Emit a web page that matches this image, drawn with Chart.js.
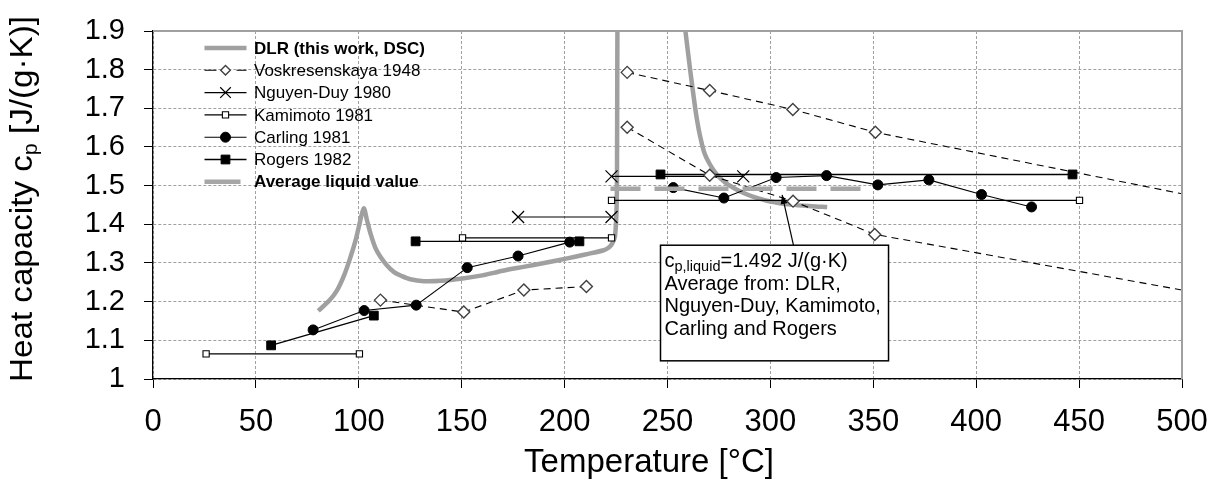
<!DOCTYPE html>
<html><head><meta charset="utf-8">
<script src="https://cdn.jsdelivr.net/npm/chart.js@4.4.1/dist/chart.umd.min.js"></script>
<style>html,body{margin:0;padding:0;background:#fff;overflow:hidden}</style>
</head><body>
<canvas id="c" width="1217" height="481"></canvas>
<script>
// ---------- data ----------
const xTickValues = [0, 50, 100, 150, 200, 250, 300, 350, 400, 450, 500];
const xTickLabels = ['0', '50', '100', '150', '200', '250', '300', '350', '400', '450', '500'];
const yTickValues = [1, 1.1, 1.2, 1.3, 1.4, 1.5, 1.6, 1.7, 1.8, 1.9];
const yTickLabels = ['1', '1.1', '1.2', '1.3', '1.4', '1.5', '1.6', '1.7', '1.8', '1.9'];

const dlrT  = [80.3, 86, 89.5, 93, 96, 98.5, 100, 102.4, 104, 105.7, 108, 110.5, 113.5, 117, 121, 125, 131.6, 140, 150.4, 160, 170, 180, 190, 201.3, 210, 219, 221.5, 223.1, 224.5, 225.3, 225.5, 225.6, 225.7, null, 257.5, 258.7, 261, 264.4, 267.6, 270.5, 274.1, 278, 282.2, 287, 291.8, 300, 310, 320, 327.6];
const dlrCp = [1.176, 1.205, 1.23, 1.27, 1.316, 1.36, 1.393, 1.441, 1.41, 1.376, 1.34, 1.316, 1.295, 1.277, 1.266, 1.258, 1.253, 1.254, 1.26, 1.268, 1.28, 1.29, 1.30, 1.312, 1.322, 1.333, 1.34, 1.35, 1.37, 1.45, 1.6, 1.8, 1.95, null, 1.95, 1.9, 1.8, 1.668, 1.59, 1.556, 1.528, 1.508, 1.494, 1.481, 1.471, 1.459, 1.451, 1.447, 1.445];

const voskT  = [110.5, 151, 180.2, 210.6, null, 230.4, 270.5, 310.9, 351, 500, null, 230.4, 270.5, 311, 350.7, 500];
const voskCp = [1.204, 1.173, 1.230, 1.239, null, 1.793, 1.746, 1.697, 1.638, 1.479, null, 1.651, 1.527, 1.46, 1.374, 1.23];

const nguyenT  = [177.4, 222.8, null, 222.8, 286.8];
const nguyenCp = [1.419, 1.419, null, 1.524, 1.524];

const kamimotoT  = [25.8, 100.3, null, 150.4, 222.8, null, 222.8, 450.2];
const kamimotoCp = [1.065, 1.065, null, 1.365, 1.365, null, 1.462, 1.462];

const carlingT  = [77.8, 102.6, 127.9, 152.7, 177.4, 202.5, null, 252.8, 277.4, 302.8, 327.3, 352.2, 377, 402.6, 426.9];
const carlingCp = [1.127, 1.177, 1.191, 1.288, 1.318, 1.354, null, 1.495, 1.468, 1.521, 1.526, 1.502, 1.515, 1.477, 1.445];

const rogersT  = [57.4, 107.3, null, 127.6, 207.2, null, 246.6, 446.8];
const rogersCp = [1.087, 1.164, null, 1.356, 1.356, null, 1.529, 1.529];

const avgT  = [222.3, 350.5];
const avgCp = [1.492, 1.492];

const seriesNames = ['DLR (this work, DSC)', 'Voskresenskaya 1948', 'Nguyen-Duy 1980', 'Kamimoto 1981', 'Carling 1981', 'Rogers 1982', 'Average liquid value'];

const xTitle = 'Temperature [°C]';
const yTitleParts = ['Heat capacity c', 'p', ' [J/(g·K)]'];
const noteParts = ['c', 'p,liquid', '=1.492 J/(g·K)'];
const noteLines = ['Average from: DLR,', 'Nguyen-Duy, Kamimoto,', 'Carling and Rogers'];
// annotation anchor in data units
const noteBox = {t0: 246.6, t1: 357.4, cpTop: 1.346, cpBottom: 1.047};
const noteArrow = {tFrom: 311.2, cpFrom: 1.346, tTo: 305.7, cpTo: 1.476};

// ---------- helpers ----------
const FONT = "'Liberation Sans', Arial, sans-serif";
const pts = (t, c) => t.map((x, i) => ({x: x, y: c[i]}));
const GRAY = '#a0a0a0';

function drawMarker(ctx, style, x, y, r) {
  ctx.beginPath();
  if (style === 'circle') { ctx.arc(x, y, r, 0, Math.PI * 2); ctx.fill(); ctx.stroke(); }
  else if (style === 'rect') { const s = r * Math.SQRT1_2; ctx.rect(x - s, y - s, 2 * s, 2 * s); ctx.fill(); ctx.stroke(); }
  else if (style === 'rectRot') { ctx.moveTo(x, y - r); ctx.lineTo(x + r, y); ctx.lineTo(x, y + r); ctx.lineTo(x - r, y); ctx.closePath(); ctx.fill(); ctx.stroke(); }
  else if (style === 'crossRot') { const s = r * Math.SQRT1_2; ctx.moveTo(x - s, y - s); ctx.lineTo(x + s, y + s); ctx.moveTo(x - s, y + s); ctx.lineTo(x + s, y - s); ctx.stroke(); }
}

const decor = {
  id: 'decor',
  afterDraw(chart) {
    const {ctx, chartArea: a, scales: {x, y}} = chart;
    ctx.save();
    // frame (top & right)
    ctx.strokeStyle = GRAY; ctx.lineWidth = 2; ctx.setLineDash([]);
    ctx.beginPath(); ctx.moveTo(a.left, a.top); ctx.lineTo(a.right, a.top); ctx.lineTo(a.right, a.bottom); ctx.stroke();

    ctx.fillStyle = '#000';
    // x title
    ctx.font = '33px ' + FONT; ctx.textAlign = 'center'; ctx.textBaseline = 'alphabetic';
    ctx.fillText(xTitle, a.left + 496, 472);

    // y title (rotated, with subscript)
    ctx.save();
    ctx.translate(32, 199); ctx.rotate(-Math.PI / 2);
    const fs = [31, 20, 31], dy = [0, 5, 0];
    let W = 0; const ws = [];
    yTitleParts.forEach((t, i) => { ctx.font = fs[i] + 'px ' + FONT; ws[i] = ctx.measureText(t).width; W += ws[i]; });
    const sc = 366 / W;
    ctx.scale(sc, 1);
    ctx.textAlign = 'left';
    let cx = -W / 2;
    yTitleParts.forEach((t, i) => { ctx.font = fs[i] + 'px ' + FONT; ctx.fillText(t, cx, dy[i]); cx += ws[i]; });
    ctx.restore();

    // legend
    const ds = chart.data.datasets;
    const sx0 = a.left + 51.5, sx1 = a.left + 93.5, tx = a.left + 101;
    for (let i = 0; i < ds.length; i++) {
      const d = ds.find(q => q.legendIndex === i);
      const yc = a.top + 17 + i * 22.3;
      ctx.save();
      ctx.strokeStyle = d.borderColor; ctx.lineWidth = d.borderWidth;
      ctx.setLineDash(d.legendDash || []);
      ctx.beginPath(); ctx.moveTo(sx0, yc); ctx.lineTo(d.legendShort ? sx0 + 36 : sx1, yc); ctx.stroke();
      ctx.setLineDash([]);
      if (d.pointStyle && d.legendRadius) {
        ctx.fillStyle = d.pointBackgroundColor; ctx.strokeStyle = d.pointBorderColor; ctx.lineWidth = d.pointBorderWidth;
        drawMarker(ctx, d.pointStyle, (sx0 + sx1) / 2, yc, d.legendRadius);
      }
      ctx.fillStyle = '#000';
      ctx.font = (d.legendBold ? 'bold ' : '') + '17px ' + FONT;
      ctx.textAlign = 'left'; ctx.textBaseline = 'middle';
      ctx.fillText(d.label, tx, yc + 1);
      ctx.restore();
    }

    // annotation arrow
    const ax0 = x.getPixelForValue(noteArrow.tFrom), ay0 = y.getPixelForValue(noteArrow.cpFrom);
    const ax1 = x.getPixelForValue(noteArrow.tTo), ay1 = y.getPixelForValue(noteArrow.cpTo);
    ctx.strokeStyle = '#000'; ctx.lineWidth = 1.2;
    ctx.beginPath(); ctx.moveTo(ax0, ay0); ctx.lineTo(ax1, ay1); ctx.stroke();
    const ang = Math.atan2(ay1 - ay0, ax1 - ax0);
    ctx.fillStyle = '#000';
    ctx.beginPath();
    ctx.moveTo(ax1, ay1);
    ctx.lineTo(ax1 - 9 * Math.cos(ang) + 3.5 * Math.sin(ang), ay1 - 9 * Math.sin(ang) - 3.5 * Math.cos(ang));
    ctx.lineTo(ax1 - 9 * Math.cos(ang) - 3.5 * Math.sin(ang), ay1 - 9 * Math.sin(ang) + 3.5 * Math.cos(ang));
    ctx.closePath(); ctx.fill();

    // annotation box
    const bl = x.getPixelForValue(noteBox.t0), br = x.getPixelForValue(noteBox.t1);
    const bt = y.getPixelForValue(noteBox.cpTop), bb = y.getPixelForValue(noteBox.cpBottom);
    ctx.fillStyle = '#fff'; ctx.fillRect(bl, bt, br - bl, bb - bt);
    ctx.strokeStyle = '#000'; ctx.lineWidth = 1.5; ctx.strokeRect(bl, bt, br - bl, bb - bt);
    ctx.fillStyle = '#000'; ctx.textAlign = 'left'; ctx.textBaseline = 'alphabetic';
    let nx = bl + 4;
    const nf = [20, 14.5, 20], nd = [0, 4, 0];
    noteParts.forEach((t, i) => { ctx.font = nf[i] + 'px ' + FONT; ctx.fillText(t, nx, bt + 22 + nd[i]); nx += ctx.measureText(t).width; });
    ctx.font = '20px ' + FONT;
    noteLines.forEach((t, i) => ctx.fillText(t, bl + 4, bt + 44.5 + i * 22.6));
    ctx.restore();
  }
};

const lineBase = {showLine: true, fill: false, spanGaps: false, tension: 0};

new Chart(document.getElementById('c'), {
  type: 'scatter',
  data: {
    datasets: [
      Object.assign({}, lineBase, {label: seriesNames[0], legendIndex: 0, legendBold: true, data: pts(dlrT, dlrCp),
        borderColor: GRAY, borderWidth: 4.5, pointRadius: 0, tension: 0.3, order: 10}),
      Object.assign({}, lineBase, {label: seriesNames[1], legendIndex: 1, data: pts(voskT, voskCp),
        borderColor: '#000', borderWidth: 1.1, borderDash: [7, 5], legendDash: [12, 20],
        pointStyle: 'rectRot', pointRadius: c => (c.raw && c.raw.x < 500 ? 6 : 0), legendRadius: 4.8,
        pointBackgroundColor: '#fff', pointBorderColor: '#404040', pointBorderWidth: 1.4, order: 5}),
      Object.assign({}, lineBase, {label: seriesNames[2], legendIndex: 2, data: pts(nguyenT, nguyenCp),
        borderColor: '#000', borderWidth: 1.1, pointStyle: 'crossRot', pointRadius: 8.5, legendRadius: 7.5,
        pointBackgroundColor: '#000', pointBorderColor: '#000', pointBorderWidth: 1.2, order: 5}),
      Object.assign({}, lineBase, {label: seriesNames[3], legendIndex: 3, data: pts(kamimotoT, kamimotoCp),
        borderColor: '#000', borderWidth: 1.1, pointStyle: 'rect', pointRadius: 4.4, legendRadius: 4.4,
        pointBackgroundColor: '#fff', pointBorderColor: '#000', pointBorderWidth: 1.1, order: 5}),
      Object.assign({}, lineBase, {label: seriesNames[4], legendIndex: 4, data: pts(carlingT, carlingCp),
        borderColor: '#000', borderWidth: 1.1, pointStyle: 'circle', pointRadius: 5, legendRadius: 5,
        pointBackgroundColor: '#000', pointBorderColor: '#000', pointBorderWidth: 1, order: 5}),
      Object.assign({}, lineBase, {label: seriesNames[5], legendIndex: 5, data: pts(rogersT, rogersCp),
        borderColor: '#000', borderWidth: 1.4, pointStyle: 'rect', pointRadius: 6.2, legendRadius: 6.2,
        pointBackgroundColor: '#000', pointBorderColor: '#000', pointBorderWidth: 1, order: 5}),
      Object.assign({}, lineBase, {label: seriesNames[6], legendIndex: 6, legendBold: true, legendShort: true, data: pts(avgT, avgCp),
        borderColor: '#a6a6a6', borderWidth: 4.5, borderDash: [30, 14], pointRadius: 0, order: 1})
    ]
  },
  options: {
    responsive: false, animation: false, devicePixelRatio: 1,
    layout: {padding: {top: 31, right: 35, bottom: 0, left: 0}},
    plugins: {legend: {display: false}, tooltip: {enabled: false}, title: {display: false}},
    scales: {
      x: {
        type: 'linear', min: 0, max: 500,
        afterBuildTicks: s => { s.ticks = xTickValues.map(v => ({value: v})); },
        afterFit: s => { s.height = 102; s.paddingLeft = 0; s.paddingRight = 0; },
        ticks: {callback: (v, i) => xTickLabels[i], font: {family: FONT, size: 31}, color: '#000', padding: 16, maxRotation: 0, autoSkip: false},
        grid: {color: '#a0a0a0', lineWidth: 1, drawTicks: true, tickLength: 9, tickColor: '#000', tickWidth: 1},
        border: {display: true, color: '#000', width: 1.3, dash: [3, 2]}
      },
      y: {
        type: 'linear', min: 1, max: 1.9,
        afterBuildTicks: s => { s.ticks = yTickValues.map(v => ({value: v})); },
        afterFit: s => { s.width = 153; s.paddingTop = 0; s.paddingBottom = 0; },
        ticks: {callback: (v, i) => yTickLabels[i], font: {family: FONT, size: 29}, color: '#000', padding: 19, autoSkip: false},
        grid: {color: '#a0a0a0', lineWidth: 1, drawTicks: true, tickLength: 9, tickColor: '#000', tickWidth: 1},
        border: {display: true, color: '#000', width: 1.3, dash: [3, 2]}
      }
    }
  },
  plugins: [decor]
});
</script>
</body></html>
